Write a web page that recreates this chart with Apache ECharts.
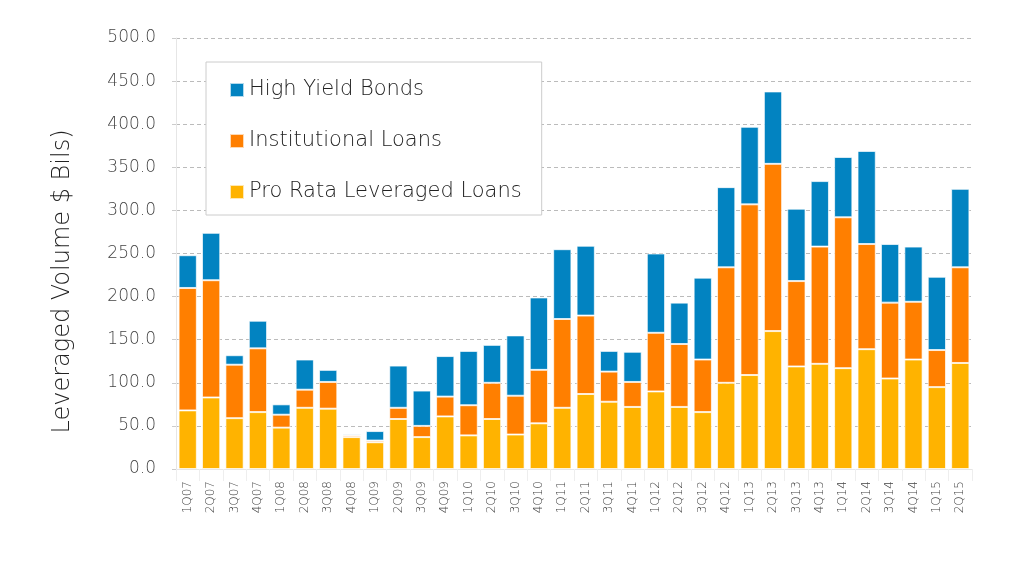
<!DOCTYPE html>
<html>
<head>
<meta charset="utf-8">
<script src="https://cdn.jsdelivr.net/npm/echarts@6/dist/echarts.min.js"></script>
<style>html,body{margin:0;padding:0;background:#fff}#c{width:1024px;height:583px}</style>
</head>
<body>
<div id="c"></div>
<script>
const categories = ['1Q07','2Q07','3Q07','4Q07','1Q08','2Q08','3Q08','4Q08','1Q09','2Q09','3Q09','4Q09',
  '1Q10','2Q10','3Q10','4Q10','1Q11','2Q11','3Q11','4Q11','1Q12','2Q12','3Q12','4Q12',
  '1Q13','2Q13','3Q13','4Q13','1Q14','2Q14','3Q14','4Q14','1Q15','2Q15'];
const proRata = [68,83,59,66,48,71,70,37,31,58,37,61, 39,58,40,53,71,87,78,72,90,72,66,100, 109,160,119,122,117,139,105,127,95,123];
const institutional = [142,136,62,74,15,21,31,2,2,13,13,23, 35,42,45,62,103,91,35,29,68,73,61,134, 198,194,99,136,175,122,88,67,43,111];
const highYield = [38,55,11,32,12,35,14,1.5,11,49,41,47, 63,44,70,84,81,81,24,35,92,48,95,93, 90,84,84,76,70,108,68,64,85,91];
const yTicks = { min: 0, max: 500, interval: 50 };

const font = '"DejaVu Sans", sans-serif';
const fw = 200;
const chart = echarts.init(document.getElementById('c'));
const barStyle = c => ({ color: c, borderColor: 'rgba(255,255,255,0.7)', borderWidth: 1 });
chart.setOption({
  animation: false,
  textStyle: { fontFamily: font },
  grid: { left: 176, right: 52, top: 38, bottom: 114 },
  legend: {
    orient: 'vertical', left: 206, top: 62,
    data: ['High Yield Bonds', 'Institutional Loans', 'Pro Rata Leveraged Loans'],
    icon: 'rect', itemWidth: 14, itemHeight: 14, itemGap: 27,
    padding: [16, 20, 11, 23],
    backgroundColor: '#fff', borderColor: '#ccc', borderWidth: 1,
    textStyle: { fontSize: 21, color: '#222', fontFamily: font, fontWeight: fw, lineHeight: 24 }
  },
  xAxis: {
    type: 'category', data: categories,
    axisLine: { show: true, lineStyle: { color: '#e6e6e6' } },
    axisTick: { show: true, length: 12, lineStyle: { color: '#eeeeee' } },
    axisLabel: { rotate: 90, fontSize: 12, color: '#444', margin: 12, fontFamily: font, fontWeight: fw }
  },
  yAxis: {
    type: 'value', min: yTicks.min, max: yTicks.max, interval: yTicks.interval,
    name: 'Leveraged Volume $ Bils)', nameLocation: 'middle', nameGap: 101,
    nameTextStyle: { fontSize: 24, color: '#222', fontFamily: font, fontWeight: fw, padding: [0, 56, 0, 0] },
    axisLine: { show: true, lineStyle: { color: '#e6e6e6' } },
    axisTick: { show: true, length: 4, lineStyle: { color: '#cccccc' } },
    axisLabel: { fontSize: 17, color: '#444', margin: 20, fontFamily: font, fontWeight: fw, formatter: v => v.toFixed(1) },
    splitLine: { show: true, lineStyle: { color: '#bbbbbb', type: [4, 3], width: 1 } }
  },
  series: [
    { name: 'Pro Rata Leveraged Loans', type: 'bar', stack: 'a', data: proRata, itemStyle: barStyle('#ffb300'), barCategoryGap: '22%' },
    { name: 'Institutional Loans', type: 'bar', stack: 'a', data: institutional, itemStyle: barStyle('#ff7f00') },
    { name: 'High Yield Bonds', type: 'bar', stack: 'a', data: highYield, itemStyle: barStyle('#0283c1') }
  ]
});
</script>
</body>
</html>
